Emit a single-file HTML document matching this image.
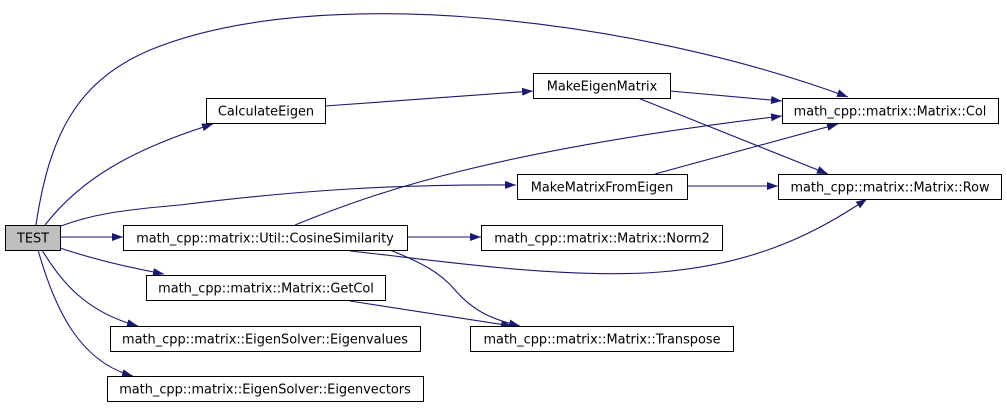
<!DOCTYPE html>
<html><head><meta charset="utf-8"><style>
html,body{margin:0;padding:0;background:#fff;}
svg{display:block;}
text{font-family:"DejaVu Sans","Liberation Sans",sans-serif;font-size:12.9px;fill:#000;}
</style></head><body>
<svg width="1007" height="408" viewBox="0 0 1007 408" xmlns="http://www.w3.org/2000/svg">
<defs>
<marker id="a" markerUnits="userSpaceOnUse" markerWidth="12" markerHeight="9" refX="11" refY="4" orient="auto">
<path d="M0,0 L11,4 L0,8 z" fill="#191970"/>
</marker>
</defs>
<g fill="none" stroke="#191970" stroke-width="1.1" marker-end="url(#a)">
<path d="M36,225 C50,130 80,80 150,50 C320,-20 640,20 848,97"/>
<path d="M45,225 C80,180 130,150 213,124"/>
<path d="M61,226 C90,215 120,210 180,205 C300,190 400,184 516,185"/>
<path d="M60,237 L123,237"/>
<path d="M60,248 C90,258 120,266 164,274"/>
<path d="M42,250 C60,280 85,312 138,326"/>
<path d="M38,250 C55,310 80,362 133,376"/>
<path d="M325,106 L533,91"/>
<path d="M670,91 L782,101"/>
<path d="M638,98 L828,174"/>
<path d="M655,174 L838,124"/>
<path d="M687,186 L778,186"/>
<path d="M295,225 C380,190 500,150 782,116"/>
<path d="M407,237 L481,237"/>
<path d="M350,251 C420,258 560,280 660,272 C760,264 820,230 867,199"/>
<path d="M390,250 C420,262 440,272 455,290 C475,313 495,320 520,326"/>
<path d="M350,301 L512,326"/>
</g>
<g stroke="#000" stroke-width="1" fill="#fff">
<rect x="5.5" y="225.5" width="55" height="25" fill="#bfbfbf"/>
<rect x="206.5" y="98.5" width="119" height="25"/>
<rect x="533.5" y="73.5" width="137" height="25"/>
<rect x="782.5" y="98.5" width="216" height="25"/>
<rect x="517.5" y="174.5" width="170" height="25"/>
<rect x="778.5" y="174.5" width="223" height="25"/>
<rect x="123.5" y="225.5" width="284" height="25"/>
<rect x="481.5" y="225.5" width="241" height="25"/>
<rect x="146.5" y="275.5" width="239" height="25"/>
<rect x="470.5" y="326.5" width="263" height="25"/>
<rect x="110.5" y="326.5" width="310" height="25"/>
<rect x="107.5" y="376.5" width="316" height="25"/>
</g>
<g text-anchor="middle">
<text x="33" y="242.5">TEST</text>
<text x="266" y="115.5">CalculateEigen</text>
<text x="602" y="90.5">MakeEigenMatrix</text>
<text x="890" y="115.5">math_cpp::matrix::Matrix::Col</text>
<text x="602" y="191.5">MakeMatrixFromEigen</text>
<text x="890" y="191.5">math_cpp::matrix::Matrix::Row</text>
<text x="265" y="242.5">math_cpp::matrix::Util::CosineSimilarity</text>
<text x="602" y="242.5">math_cpp::matrix::Matrix::Norm2</text>
<text x="266" y="292.5">math_cpp::matrix::Matrix::GetCol</text>
<text x="602" y="343.5">math_cpp::matrix::Matrix::Transpose</text>
<text x="265" y="343.5">math_cpp::matrix::EigenSolver::Eigenvalues</text>
<text x="265" y="393.5">math_cpp::matrix::EigenSolver::Eigenvectors</text>
</g>
</svg>
</body></html>
